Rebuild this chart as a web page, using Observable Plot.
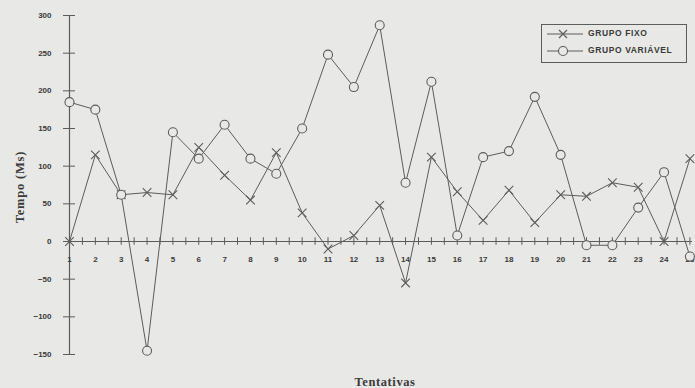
<!DOCTYPE html>
<html>
<head>
<meta charset="utf-8">
<script src="https://cdn.jsdelivr.net/npm/d3@7"></script>
<script src="https://cdn.jsdelivr.net/npm/@observablehq/plot@0.6"></script>
<style>
  html, body { margin: 0; padding: 0; background: #e8e8e6; }
  #chart { position: relative; width: 695px; height: 388px; }
</style>
</head>
<body>
<div id="chart"></div>
<script>
// Tentativas (trials)
const trials = [1, 2, 3, 4, 5, 6, 7, 8, 9, 10, 11, 12, 13, 14, 15, 16, 17, 18, 19, 20, 21, 22, 23, 24, 25];
// GRUPO FIXO (x markers)
const grupoFixo = [0, 115, 62, 65, 62, 125, 88, 55, 118, 38, -10, 8, 48, -55, 112, 66, 28, 68, 25, 62, 60, 78, 72, 0, 110];
// GRUPO VARIÁVEL (open circles)
const grupoVariavel = [185, 175, 62, -145, 145, 110, 155, 110, 90, 150, 248, 205, 287, 78, 212, 8, 112, 120, 192, 115, -5, -5, 45, 92, -20];
// Axis ticks
const yTicks = [-150, -100, -50, 0, 50, 100, 150, 200, 250, 300];
const xTickLabels = ["1", "2", "3", "4", "5", "6", "7", "8", "9", "10", "11", "12", "13", "14", "15", "16", "17", "18", "19", "20", "21", "22", "23", "24", "25"];
const seriesNames = ["GRUPO FIXO", "GRUPO VARIÁVEL"];

const rows = trials.map((t, i) => ({t, fixo: grupoFixo[i], variavel: grupoVariavel[i]}));
const minorTicks = trials.flatMap(t => [t, t + 0.5]);

const bg = "#e8e8e6";
const ink = "#5c5c5c";
const textInk = "#3a3a3a";

const chart = Plot.plot({
  width: 695,
  height: 388,
  marginTop: 15,
  marginBottom: 34,
  marginLeft: 69,
  marginRight: 3,
  style: {background: "transparent", fontFamily: "'Liberation Sans', Arial, sans-serif", color: textInk},
  x: {domain: [1, 25.1], axis: null},
  y: {domain: [-150, 300], axis: null},
  marks: [
    Plot.axisY(yTicks, {anchor: "left", tickSize: 12, dx: 6, tickPadding: 12, stroke: ink, fontSize: 8, fontWeight: "bold", fill: textInk, label: null}),
    Plot.ruleX([1], {y1: -150, y2: 300, stroke: ink, strokeWidth: 1.2}),
    Plot.ruleY([0], {x1: 1, x2: 25.1, stroke: ink, strokeWidth: 1.2}),
    Plot.ruleX(minorTicks, {x: d => d, y1: -5, y2: 5, stroke: ink}),
    Plot.text(trials, {x: d => d, y: 0, dy: 18, text: (d, i) => xTickLabels[i], fontSize: 8, fontWeight: "bold", fill: textInk}),
    Plot.line(rows, {x: "t", y: "fixo", stroke: ink, strokeWidth: 1}),
    Plot.line(rows, {x: "t", y: "variavel", stroke: ink, strokeWidth: 1}),
    Plot.dot(rows, {x: "t", y: "fixo", symbol: "times", r: 4, stroke: ink, strokeWidth: 1.1}),
    Plot.dot(rows, {x: "t", y: "variavel", symbol: "circle", r: 4.5, stroke: ink, strokeWidth: 1.1, fill: bg})
  ]
});

document.getElementById("chart").appendChild(chart);

const svg = d3.select(chart);
// Y axis title
svg.append("text")
  .attr("transform", "translate(21,187) rotate(-90)")
  .attr("text-anchor", "middle")
  .attr("dominant-baseline", "middle")
  .attr("font-family", "'Liberation Serif', 'DejaVu Serif', serif")
  .attr("font-weight", "bold")
  .attr("font-size", 12.5)
  .attr("letter-spacing", 0.8)
  .attr("fill", textInk)
  .text("Tempo (Ms)");
// X axis title
svg.append("text")
  .attr("x", 385).attr("y", 383)
  .attr("text-anchor", "middle")
  .attr("dominant-baseline", "middle")
  .attr("font-family", "'Liberation Serif', 'DejaVu Serif', serif")
  .attr("font-weight", "bold")
  .attr("font-size", 12.5)
  .attr("letter-spacing", 0.6)
  .attr("fill", textInk)
  .text("Tentativas");

// Legend
const lg = svg.append("g");
lg.append("rect").attr("x", 541.5).attr("y", 24.5).attr("width", 145).attr("height", 38)
  .attr("fill", "none").attr("stroke", ink).attr("stroke-width", 1);
seriesNames.forEach((name, i) => {
  const cy = 34 + i * 17;
  lg.append("line").attr("x1", 547).attr("x2", 583).attr("y1", cy).attr("y2", cy).attr("stroke", ink);
  if (i === 0) {
    lg.append("path").attr("d", "M-4,-4L4,4M-4,4L4,-4").attr("transform", `translate(563,${cy})`)
      .attr("stroke", ink).attr("fill", "none").attr("stroke-width", 1.1);
  } else {
    lg.append("circle").attr("cx", 563).attr("cy", cy).attr("r", 4.5)
      .attr("stroke", ink).attr("fill", bg).attr("stroke-width", 1.1);
  }
  lg.append("text").attr("x", 588).attr("y", cy)
    .attr("text-anchor", "start")
    .attr("dominant-baseline", "middle")
    .attr("font-family", "'Liberation Sans', Arial, sans-serif").attr("font-weight", "bold")
    .attr("font-size", 8.5).attr("letter-spacing", 0.6).attr("fill", textInk).text(name);
});
</script>
</body>
</html>
